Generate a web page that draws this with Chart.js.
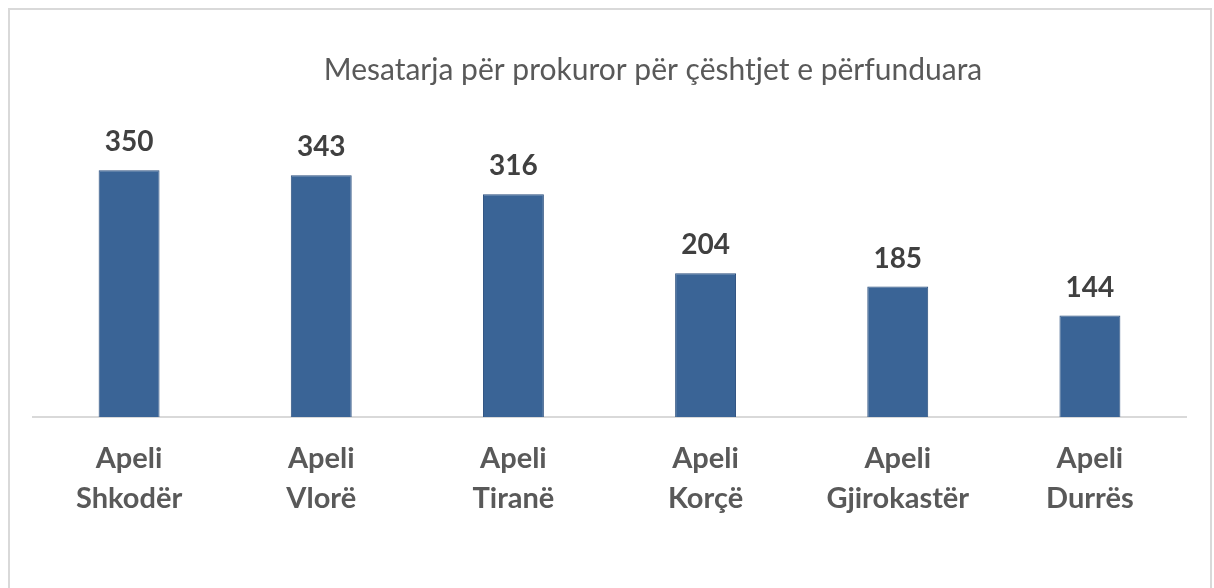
<!DOCTYPE html>
<html>
<head>
<meta charset="utf-8">
<script src="https://cdn.jsdelivr.net/npm/chart.js@4.4.0/dist/chart.umd.min.js"></script>
<style>
  html, body { margin: 0; padding: 0; background: #fff; overflow: hidden; }
  canvas { display: block; }
</style>
</head>
<body>
<canvas id="chart" width="1214" height="588"></canvas>
<script>
// chart data
const chartTitle = "Mesatarja për prokuror për çështjet e përfunduara";
const categories = [
  ["Apeli", "Shkodër"],
  ["Apeli", "Vlorë"],
  ["Apeli", "Tiranë"],
  ["Apeli", "Korçë"],
  ["Apeli", "Gjirokastër"],
  ["Apeli", "Durrës"]
];
const averages = [350, 343, 316, 204, 185, 144];

const FONT = "Lato, 'Open Sans', sans-serif";

// frame around the whole picture + title
const framePlugin = {
  id: "frame",
  beforeDraw(chart) {
    const ctx = chart.ctx;
    ctx.save();
    ctx.fillStyle = "#fff";
    ctx.fillRect(0, 0, chart.width, chart.height);
    ctx.strokeStyle = "#d9d9d9";
    ctx.lineWidth = 2;
    ctx.strokeRect(9, 9, 1202, chart.height + 20);
    ctx.fillStyle = "#595959";
    ctx.font = "30px " + FONT;
    ctx.textAlign = "center";
    ctx.textBaseline = "middle";
    ctx.fillText(chartTitle, 653, 70);
    ctx.restore();
  }
};

// value labels above bars
const valueLabels = {
  id: "valueLabels",
  afterDatasetsDraw(chart) {
    const ctx = chart.ctx;
    const meta = chart.getDatasetMeta(0);
    ctx.save();
    ctx.fillStyle = "#404040";
    ctx.font = "bold 28px " + FONT;
    ctx.textAlign = "center";
    ctx.textBaseline = "middle";
    meta.data.forEach((bar, i) => {
      ctx.fillText(averages[i], bar.x, bar.y - 28);
    });
    ctx.restore();
  }
};

new Chart(document.getElementById("chart"), {
  type: "bar",
  data: {
    labels: categories,
    datasets: [{
      data: averages,
      backgroundColor: "#3a6496",
      borderColor: "#2b4f7e",
      borderWidth: 1,
      categoryPercentage: 1,
      barPercentage: 0.317
    }]
  },
  options: {
    responsive: false,
    animation: false,
    devicePixelRatio: 1,
    layout: { padding: { left: 33, right: 28, top: 135, bottom: 0 } },
    plugins: {
      legend: { display: false },
      tooltip: { enabled: false },
      title: { display: false }
    },
    scales: {
      y: {
        display: false,
        min: 0,
        max: 400
      },
      x: {
        grid: { display: false, drawTicks: false },
        border: { display: true, color: "#d9d9d9", width: 2 },
        ticks: {
          color: "#595959",
          font: { family: FONT, size: 29, weight: "bold", lineHeight: 1.36 },
          padding: 22,
          maxRotation: 0,
          autoSkip: false
        },
        afterFit(scale) { scale.height = 171; }
      }
    }
  },
  plugins: [framePlugin, valueLabels]
});
</script>
</body>
</html>
